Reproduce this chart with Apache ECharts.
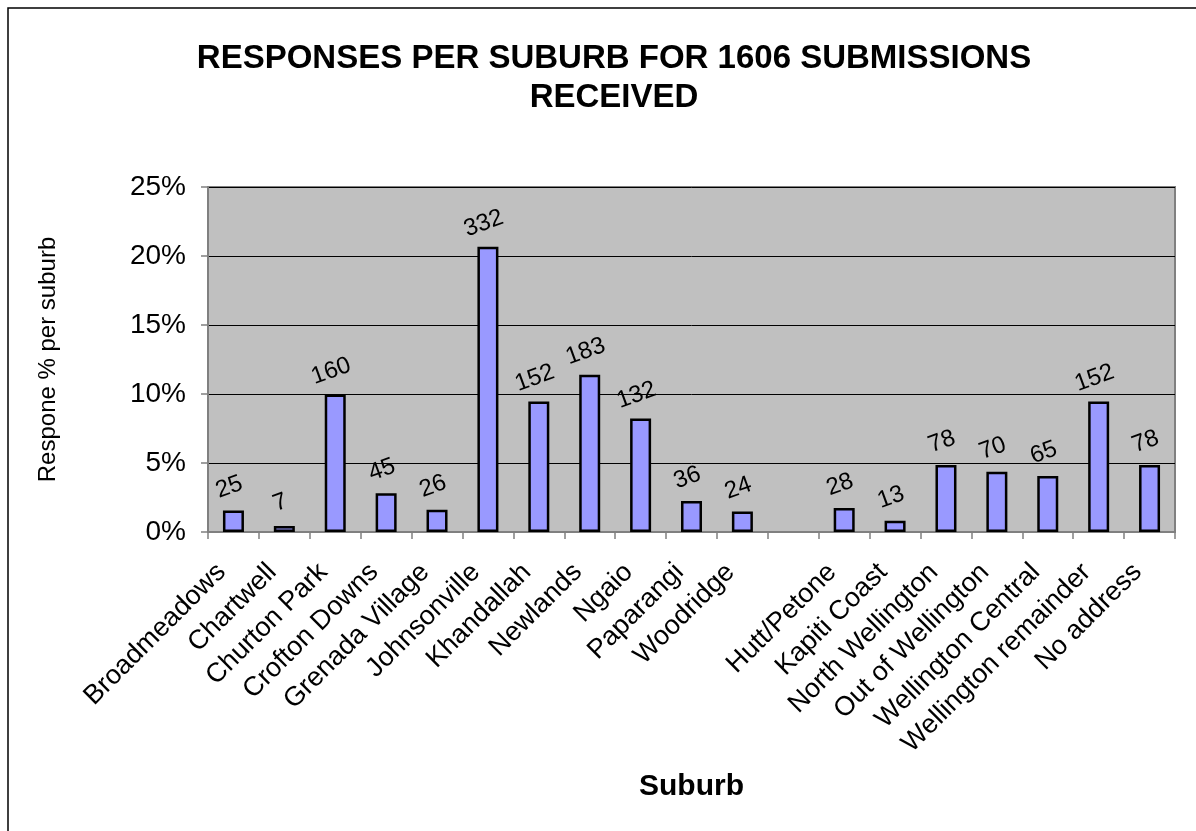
<!DOCTYPE html>
<html>
<head>
<meta charset="utf-8">
<script src="https://cdn.jsdelivr.net/npm/echarts@6/dist/echarts.min.js"></script>
<style>
html,body{margin:0;padding:0;background:#fff;}
#chart{width:1196px;height:831px;}
</style>
</head>
<body>
<div id="chart"></div>
<script>
var suburbs = ["Broadmeadows","Chartwell","Churton Park","Crofton Downs","Grenada Village","Johnsonville","Khandallah","Newlands","Ngaio","Paparangi","Woodridge","","Hutt/Petone","Kapiti Coast","North Wellington","Out of Wellington","Wellington Central","Wellington remainder","No address"];
var counts = [25,7,160,45,26,332,152,183,132,36,24,null,28,13,78,70,65,152,78];
var percents = [1.56,0.44,9.96,2.80,1.62,20.67,9.46,11.39,8.22,2.24,1.49,null,1.74,0.81,4.86,4.36,4.05,9.46,4.86];
var yTicks = [0,5,10,15,20,25];

var chart = echarts.init(document.getElementById('chart'), null, {renderer:'canvas'});
var FONT = 'Liberation Sans, Arial, sans-serif';
chart.setOption({
  animation:false,
  backgroundColor:'#ffffff',
  title:{
    text:'RESPONSES PER SUBURB FOR 1606 SUBMISSIONS\nRECEIVED',
    left:609, top:34, textAlign:'center',
    textStyle:{fontFamily:FONT,fontWeight:'bold',fontSize:33,color:'#000',lineHeight:39}
  },
  graphic:[{type:'rect',shape:{x:8,y:8,width:1400,height:1000},style:{fill:'none',stroke:'#000',lineWidth:1.5},silent:true}],
  grid:{left:208,right:21,top:187,bottom:299,show:true,backgroundColor:'#c0c0c0',borderColor:'#808080',borderWidth:2},
  xAxis:{
    type:'category',
    data:suburbs,
    name:'Suburb',
    nameLocation:'middle',
    nameGap:240,
    nameTextStyle:{fontFamily:FONT,fontWeight:'bold',fontSize:30,color:'#000'},
    axisLine:{show:true,lineStyle:{color:'#808080',width:2}},
    axisTick:{show:true,alignWithLabel:false,length:7,lineStyle:{color:'#808080',width:1.5}},
    axisLabel:{interval:0,rotate:45,fontFamily:FONT,fontSize:27,color:'#000',margin:24,padding:[0,17,0,0]},
    splitLine:{show:false}
  },
  yAxis:{
    type:'value',
    min:yTicks[0], max:yTicks[yTicks.length-1], interval:5,
    name:'Respone % per suburb',
    nameLocation:'middle',
    nameGap:148,
    nameRotate:90,
    nameTextStyle:{fontFamily:FONT,fontSize:24,color:'#000'},
    axisLine:{show:true,lineStyle:{color:'#808080',width:2}},
    axisTick:{show:true,length:7,lineStyle:{color:'#808080',width:1.5}},
    axisLabel:{formatter:'{value}%',fontFamily:FONT,fontSize:28,color:'#000',margin:22},
    splitLine:{show:true,lineStyle:{color:'#000',width:1}}
  },
  series:[{
    type:'bar',
    data:percents,
    barWidth:21,
    itemStyle:{color:'#9999ff',borderColor:'#000',borderWidth:2.5},
    label:{
      show:true,position:'top',distance:12,rotate:20,
      fontFamily:FONT,fontSize:24,color:'#000',
      formatter:function(p){return counts[p.dataIndex]==null?'':String(counts[p.dataIndex]);}
    }
  }]
});
</script>
</body>
</html>
